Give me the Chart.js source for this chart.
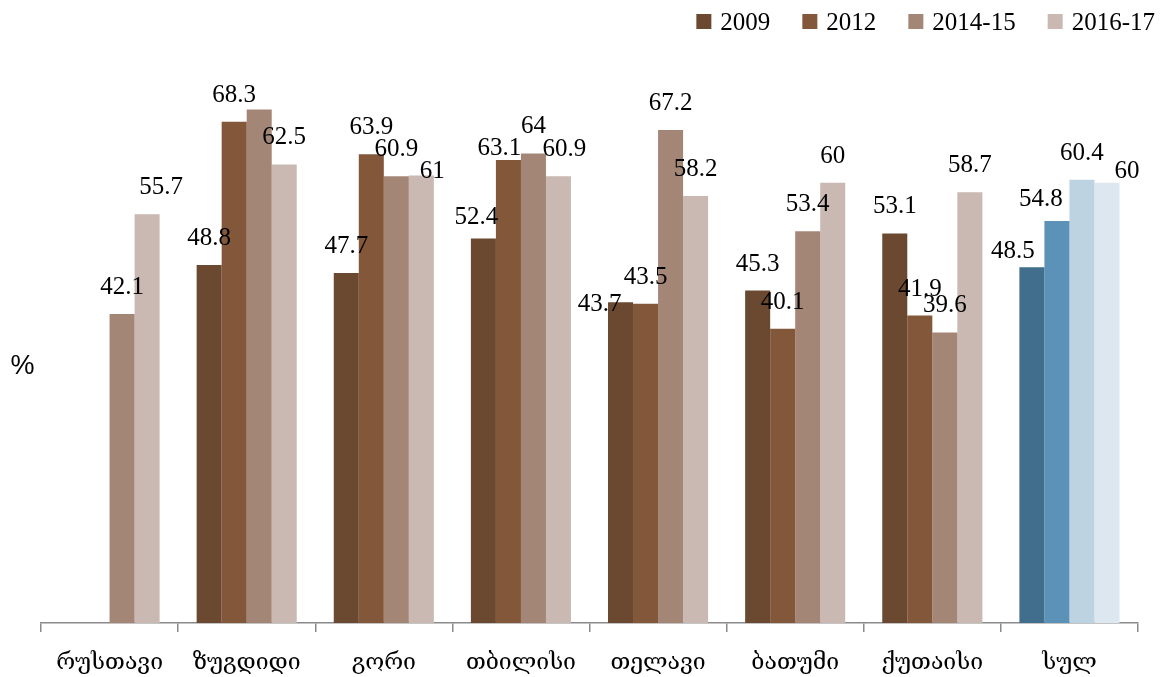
<!DOCTYPE html>
<html>
<head>
<meta charset="utf-8">
<script src="https://cdn.jsdelivr.net/npm/chart.js@4.4.1/dist/chart.umd.min.js"></script>
<style>
  html, body { margin: 0; padding: 0; background: #ffffff; }
  #wrap { width: 1165px; height: 677px; }
</style>
</head>
<body>
<div id="wrap"><canvas id="chart" width="1165" height="677"></canvas></div>
<script>
// Cities plus the overall total ("სულ")
const categories = ['რუსთავი', 'ზუგდიდი', 'გორი', 'თბილისი', 'თელავი', 'ბათუმი', 'ქუთაისი', 'სულ'];
const seriesNames = ['2009', '2012', '2014-15', '2016-17'];

// Percentages per survey round (null = no survey in that city)
const values2009 = [null, 48.8, 47.7, 52.4, 43.7, 45.3, 53.1, 48.5];
const values2012 = [null, 68.3, 63.9, 63.1, 43.5, 40.1, 41.9, 54.8];
const values2014 = [42.1, 70.0, 60.9, 64.0, 67.2, 53.4, 39.6, 60.4];
const values2016 = [55.7, 62.5, 61.0, 60.9, 58.2, 60.0, 58.7, 60.0];

const yAxisUnit = '%';

// Brown shades for the cities, blue shades for the total column
const brownShades = ['#6b4830', '#82573a', '#a48677', '#c9b9b2'];
const blueShades = ['#416e8c', '#5c92b8', '#bed3e1', '#dde7ef'];

const seriesValues = [values2009, values2012, values2014, values2016];

const datasets = seriesValues.map((vals, s) => ({
  label: seriesNames[s],
  data: vals,
  backgroundColor: categories.map((c, i) => i === categories.length - 1 ? blueShades[s] : brownShades[s]),
  borderWidth: 0,
  categoryPercentage: 0.73,
  barPercentage: 1.0
}));

// Hand placement of a few value labels that would otherwise collide: [dx, dy] in px
const labelNudge = {
  '3,0': [14, 0],
  '3,2': [11, 23],
  '0,3': [-7, 5],
  '1,3': [-9, 15],
  '3,3': [6, 0],
  '0,4': [-21, 29],
  '0,7': [-19, 11],
  '1,7': [-16, 5],
  '3,7': [20, 15]
};
const hiddenLabels = { '2,1': true };

const valueLabels = {
  id: 'valueLabels',
  afterDatasetsDraw(chart) {
    const ctx = chart.ctx;
    ctx.save();
    ctx.font = '25px "Liberation Serif", "Times New Roman", serif';
    ctx.fillStyle = '#000';
    ctx.textAlign = 'center';
    ctx.textBaseline = 'alphabetic';
    chart.data.datasets.forEach((ds, s) => {
      const meta = chart.getDatasetMeta(s);
      meta.data.forEach((bar, i) => {
        const v = ds.data[i];
        if (v === null || v === undefined) return;
        const key = s + ',' + i;
        if (hiddenLabels[key]) return;
        const [dx, dy] = labelNudge[key] || [0, 0];
        ctx.fillText(String(v), bar.x + dx, bar.y - 28 + dy + 8);
      });
    });
    ctx.restore();
  }
};

// Legend row at the top right and the unit sign on the left
const sideTexts = {
  id: 'sideTexts',
  afterDraw(chart) {
    const ctx = chart.ctx;
    ctx.save();
    ctx.font = '27px "Liberation Sans", Arial, sans-serif';
    ctx.fillStyle = '#000';
    ctx.textAlign = 'center';
    ctx.textBaseline = 'middle';
    ctx.fillText(yAxisUnit, 22.5, 367);

    ctx.font = '25px "Liberation Serif", "Times New Roman", serif';
    ctx.textAlign = 'left';
    ctx.textBaseline = 'alphabetic';
    const box = 15, gap = 9, spacing = 32, cy = 21.5, rightEdge = 1155;
    const items = chart.data.datasets.map(ds => ({ text: ds.label, w: ctx.measureText(ds.label).width }));
    const total = items.reduce((a, it) => a + box + gap + it.w, 0) + spacing * (items.length - 1);
    let x = rightEdge - total;
    items.forEach((it, s) => {
      ctx.fillStyle = brownShades[s];
      ctx.fillRect(x, cy - box / 2, box, box);
      ctx.fillStyle = '#000';
      ctx.fillText(it.text, x + box + gap, cy + 8);
      x += box + gap + it.w + spacing;
    });
    ctx.restore();
  }
};

new Chart(document.getElementById('chart'), {
  type: 'bar',
  data: { labels: categories, datasets },
  options: {
    responsive: false,
    animation: false,
    devicePixelRatio: 1,
    layout: { padding: { top: 36, left: 41, right: 27, bottom: 0 } },
    plugins: {
      legend: { display: false },
      tooltip: { enabled: false }
    },
    scales: {
      x: {
        offset: true,
        grid: {
          display: true,
          offset: true,
          drawOnChartArea: false,
          drawTicks: true,
          tickLength: 9,
          color: '#8a8a8a',
          lineWidth: 1.5
        },
        border: { display: true, color: '#8a8a8a', width: 1.5 },
        ticks: {
          font: { family: '"DejaVu Serif", "DejaVu Sans", serif', size: 23 },
          color: '#000',
          padding: 17,
          maxRotation: 0
        },
        afterFit(scale) { scale.height = 54; }
      },
      y: {
        display: false,
        min: 0,
        max: 80
      }
    }
  },
  plugins: [valueLabels, sideTexts]
});
</script>
</body>
</html>
